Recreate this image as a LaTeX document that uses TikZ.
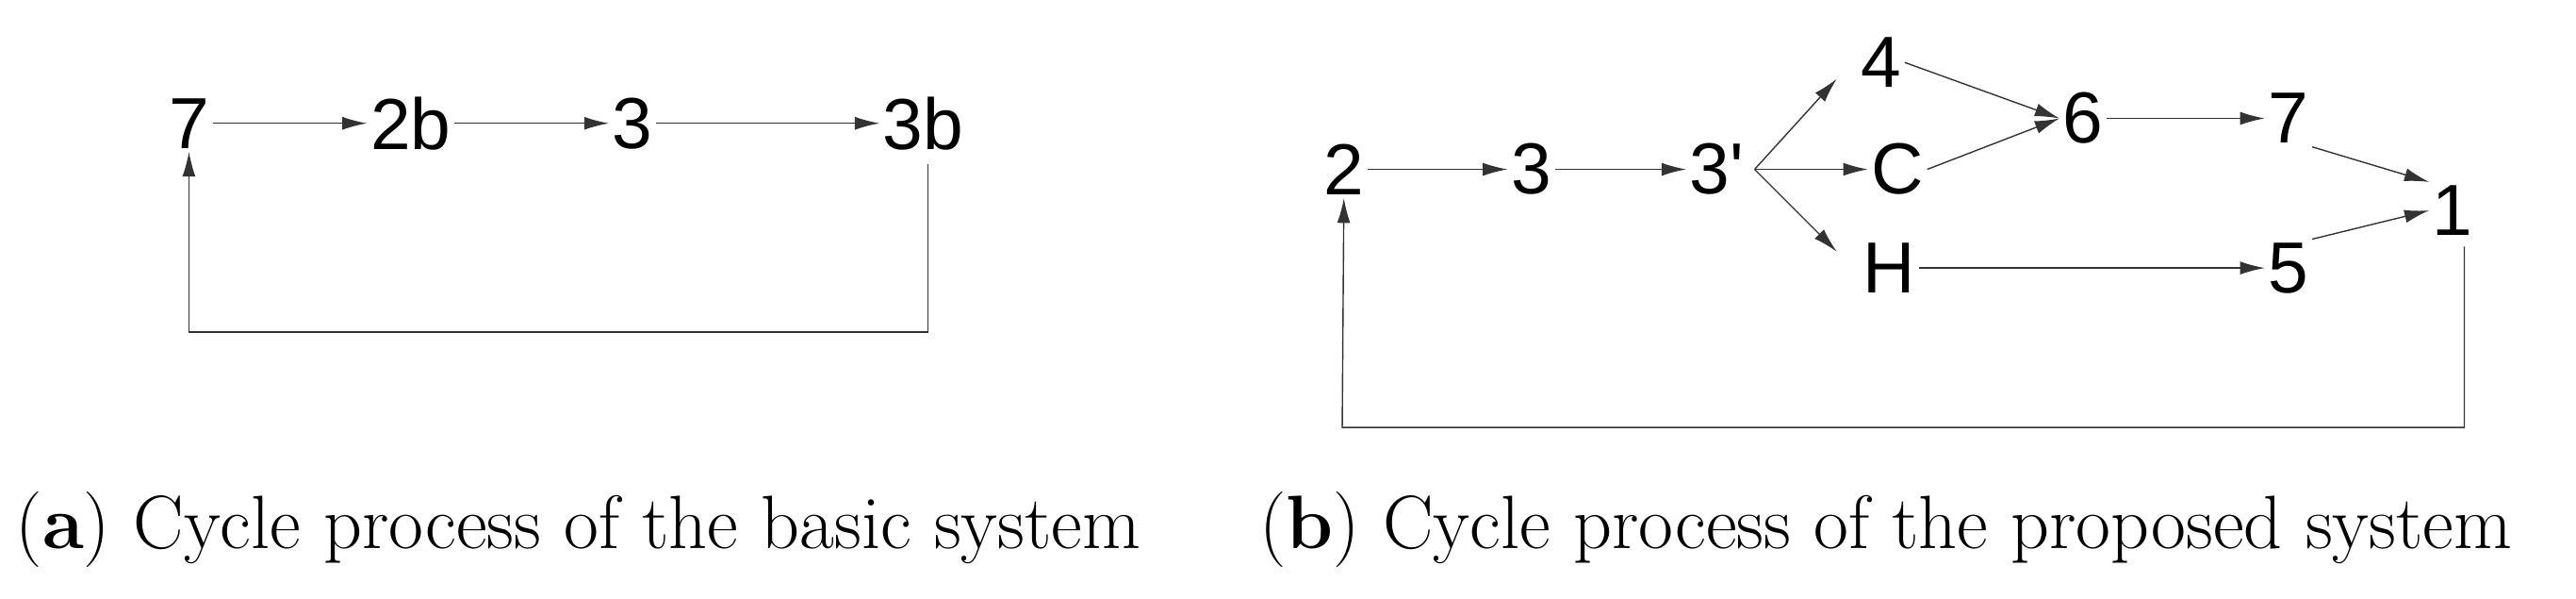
\documentclass[tikz,border=0pt]{standalone}
\usepackage{fontspec}
\newfontfamily\arialf{Liberation Sans}
\usetikzlibrary{arrows.meta}
\begin{document}
\begin{tikzpicture}[x=1pt,y=-1pt,
  lab/.style={font=\arialf\fontsize{44}{44}\selectfont, inner sep=2pt},
  captext/.style={font=\fontsize{46}{50}\selectfont, inner sep=0pt},
  arr/.style={-{Latex[length=15pt,width=8pt]}, line width=0.8pt, draw=black!80}]
\useasboundingbox (0,0) rectangle (1568,364);
% (a)
\node[lab] (a7) at (115,75) {7};
\node[lab] (a2b) at (250,75) {2b};
\node[lab] (a3) at (385,75) {3};
\node[lab] (a3b) at (562,75) {3b};
\draw[arr] (a7.east) -- (a2b.west);
\draw[arr] (a2b.east) -- (a3.west);
\draw[arr] (a3.east) -- (a3b.west);
\coordinate (ar) at (565,202);
\coordinate (al) at (115,202);
\draw[arr] (565,100) -- (ar) -- (al) -- (a7.south);
% (b)
\node[lab] (b2) at (818,103) {2};
\node[lab] (b3) at (932,103) {3};
\node[lab] (b3p) at (1045,103) {3'};
\node[lab] (b4) at (1145,38) {4};
\node[lab] (bC) at (1155,103) {C};
\node[lab] (bH) at (1150,163) {H};
\node[lab] (b6) at (1268,72) {6};
\node[lab] (b7) at (1393,72) {7};
\node[lab] (b1) at (1493,128) {1};
\node[lab] (b5) at (1393,163) {5};
\coordinate (sp) at (1068,103);
\draw[arr] (b2.east) -- (b3.west);
\draw[arr] (b3.east) -- (b3p.west);
\draw[arr] (sp) -- (1118,48);
\draw[arr] (sp) -- (bC.west);
\draw[arr] (sp) -- (1118,153);
\draw[arr] (b4.east) -- (b6.west);
\draw[arr] (bC.east) -- (b6.west);
\draw[arr] (bH.east) -- (b5.west);
\draw[arr] (b6.east) -- (b7.west);
\draw[arr] (b7.south east) -- (b1.north west);
\draw[arr] (b5.north east) -- (b1.west);
\coordinate (br) at (1500,260);
\coordinate (bl) at (817,260);
\draw[arr] (1500,150) -- (br) -- (bl) -- (b2.south);
% captions
\node[captext] (ca) at (352,322) {(\textbf{a}) Cycle process of the basic system};
\node[captext] (cb) at (1148,322) {(\textbf{b}) Cycle process of the proposed system};
\end{tikzpicture}
\end{document}
